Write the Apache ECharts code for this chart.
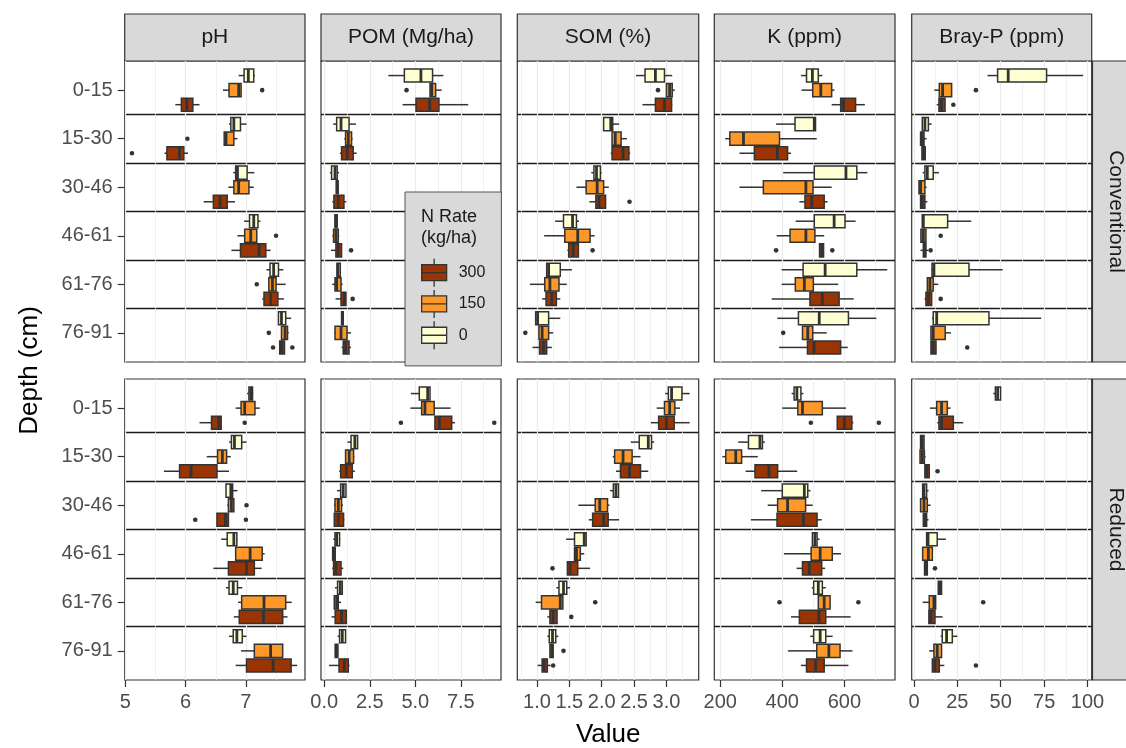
<!DOCTYPE html>
<html><head><meta charset="utf-8">
<script src="https://cdn.jsdelivr.net/npm/echarts@6/dist/echarts.min.js"></script>
<style>html,body{margin:0;padding:0;background:#fff}#chart{width:1126px;height:748px}</style>
</head><body><div id="chart"></div>
<script>
// ---------------- DATA ----------------
const depths = ['0-15','15-30','30-46','46-61','61-76','76-91'];
const rateLabels = ['300','150','0'];
const varNames = ['pH','POM (Mg/ha)','SOM (%)','K (ppm)','Bray-P (ppm)'];
const systemNames = ['Conventional','Reduced'];
const xTickMajor = [[5,6,7],[0,2.5,5,7.5],[1,1.5,2,2.5,3],[200,400,600],[0,25,50,75,100]];
const xTickMinor = [[5.5,6.5,7.5],[1.25,3.75,6.25,8.75],[0.75,1.25,1.75,2.25,2.75,3.25],[300,500,700],[12.5,37.5,62.5,87.5]];
const xTickDecimals = [0,1,1,0,0];
const xMin = [4.99,-0.18,0.696,181,-1.3];
const xMax = [7.98,9.71,3.499,763,102.4];

// box stats per depth: [lower whisker, Q1, median, Q3, upper whisker]
const pH_conv_r0   = [[6.88,6.97,7.04,7.13,7.15],[6.72,6.75,6.80,6.91,7.01],[6.79,6.83,6.86,7.02,7.14],[6.97,7.06,7.13,7.20,7.24],[7.34,7.40,7.46,7.54,7.62],[7.54,7.54,7.59,7.66,7.75]];
const pH_conv_r150 = [[6.62,6.72,6.88,6.92,6.92],[6.64,6.64,6.67,6.80,6.86],[6.71,6.80,6.88,7.05,7.13],[6.86,6.98,7.08,7.18,7.18],[7.38,7.38,7.44,7.50,7.66],[7.59,7.59,7.65,7.69,7.71]];
const pH_conv_r300 = [[5.83,5.93,6.02,6.12,6.23],[5.65,5.69,5.90,5.97,6.04],[6.30,6.46,6.57,6.69,6.82],[6.76,6.91,7.22,7.33,7.41],[7.27,7.30,7.41,7.53,7.63],[7.56,7.56,7.59,7.64,7.64]];
const pH_conv_out  = [[0,'150',7.27],[1,'150',6.03],[1,'300',5.11],[3,'150',7.50],[4,'150',7.18],[5,'150',7.38],[5,'300',7.45],[5,'300',7.77]];

const pH_red_r0   = [[7.02,7.05,7.08,7.11,7.12],[6.72,6.76,6.81,6.93,7.01],[6.67,6.67,6.75,6.78,6.86],[6.59,6.69,6.80,6.85,6.86],[6.67,6.72,6.79,6.86,6.94],[6.72,6.79,6.85,6.94,7.01]];
const pH_red_r150 = [[6.83,6.92,6.98,7.15,7.23],[6.35,6.53,6.61,6.68,6.75],[6.69,6.71,6.76,6.80,6.80],[6.83,6.83,7.07,7.27,7.31],[6.87,6.93,7.30,7.66,7.76],[6.92,7.14,7.41,7.61,7.61]];
const pH_red_r300 = [[6.23,6.43,6.55,6.59,6.59],[5.64,5.90,6.09,6.52,6.72],[6.52,6.52,6.66,6.71,6.71],[6.46,6.71,7.01,7.14,7.26],[6.80,6.89,7.29,7.61,7.69],[6.83,7.01,7.45,7.75,7.85]];
const pH_red_out  = [[0,'300',6.98],[2,'150',7.01],[2,'300',6.16],[2,'300',7.00]];

const POM_conv_r0   = [[3.52,4.40,5.31,5.95,6.54],[0.49,0.68,0.92,1.36,1.74],[0.31,0.40,0.59,0.71,0.81],[0.57,0.59,0.64,0.71,0.73],[0.68,0.70,0.75,0.88,0.90],[0.93,0.95,1.00,1.04,1.06]];
const POM_conv_r150 = [[5.81,5.81,5.90,6.12,6.45],[1.10,1.17,1.32,1.50,1.56],[0.64,0.66,0.71,0.76,0.78],[0.44,0.51,0.64,0.77,0.82],[0.44,0.59,0.68,0.92,1.01],[0.55,0.59,0.92,1.25,1.47]];
const POM_conv_r300 = [[4.30,5.04,5.79,6.30,7.91],[0.86,0.95,1.26,1.59,1.78],[0.44,0.53,0.77,1.08,1.21],[0.37,0.64,0.77,0.95,0.95],[0.62,0.92,1.10,1.19,1.19],[0.95,1.04,1.17,1.36,1.47]];
const POM_conv_out  = [[0,'150',4.52],[3,'300',1.47],[4,'300',1.56]];

const POM_red_r0   = [[4.76,5.22,5.68,5.81,5.81],[1.28,1.47,1.68,1.83,1.83],[0.70,0.90,1.04,1.19,1.19],[0.49,0.59,0.68,0.84,0.88],[0.59,0.73,0.88,0.99,0.99],[0.73,0.84,0.99,1.17,1.17]];
const POM_red_r150 = [[4.73,5.35,5.53,6.04,6.94],[1.14,1.17,1.37,1.61,1.65],[0.53,0.59,0.77,0.95,1.03],[0.44,0.46,0.53,0.60,0.62],[0.55,0.55,0.68,0.77,0.92],[0.59,0.60,0.66,0.75,0.77]];
const POM_red_r300 = [[6.08,6.08,6.32,7.00,7.18],[0.82,0.90,1.21,1.54,1.68],[0.55,0.55,0.77,1.06,1.10],[0.44,0.51,0.64,0.92,1.04],[0.40,0.60,0.95,1.21,1.25],[0.26,0.81,1.10,1.32,1.39]];
const POM_red_out  = [[0,'300',4.21],[0,'300',9.34]];

const SOM_conv_r0   = [[2.53,2.67,2.83,2.97,3.09],[2.03,2.03,2.14,2.17,2.27],[1.84,1.88,1.92,1.98,2.00],[1.28,1.41,1.55,1.61,1.65],[1.15,1.15,1.18,1.36,1.54],[0.98,0.98,1.01,1.18,1.36]];
const SOM_conv_r150 = [[3.00,3.00,3.05,3.09,3.13],[2.16,2.16,2.21,2.30,2.39],[1.61,1.76,1.93,2.03,2.11],[1.11,1.43,1.63,1.82,1.89],[0.89,1.12,1.20,1.34,1.46],[1.03,1.03,1.08,1.18,1.25]];
const SOM_conv_r300 = [[2.63,2.83,2.97,3.08,3.09],[2.14,2.16,2.33,2.42,2.44],[1.81,1.91,1.96,2.06,2.06],[1.47,1.49,1.56,1.64,1.64],[1.08,1.14,1.23,1.30,1.36],[0.93,1.04,1.10,1.15,1.23]];
const SOM_conv_out  = [[0,'150',2.87],[2,'300',2.43],[3,'300',1.86],[5,'150',0.82]];

const SOM_red_r0   = [[2.98,3.03,3.08,3.24,3.36],[2.45,2.58,2.72,2.77,2.81],[2.13,2.18,2.22,2.26,2.26],[1.45,1.58,1.73,1.76,1.76],[1.30,1.34,1.41,1.46,1.51],[1.16,1.19,1.24,1.29,1.33]];
const SOM_red_r150 = [[2.85,2.97,3.05,3.13,3.21],[2.17,2.20,2.33,2.47,2.60],[1.64,1.90,1.97,2.09,2.12],[1.58,1.58,1.61,1.67,1.73],[0.98,1.07,1.36,1.40,1.40],[1.20,1.20,1.23,1.25,1.25]];
const SOM_red_r300 = [[2.76,2.88,3.00,3.12,3.36],[2.22,2.29,2.43,2.60,2.72],[1.80,1.86,2.03,2.10,2.27],[1.47,1.47,1.51,1.63,1.82],[1.16,1.20,1.25,1.31,1.31],[1.01,1.08,1.11,1.16,1.21]];
const SOM_red_out  = [[3,'300',1.24],[4,'150',1.90],[4,'300',1.53],[5,'150',1.41],[5,'300',1.25]];

const K_conv_r0   = [[460,478,497,516,529],[380,441,503,507,507],[403,503,605,640,674],[443,503,567,602,636],[398,467,538,640,738],[384,452,519,613,703]];
const K_conv_r150 = [[462,498,524,559,568],[216,231,275,391,511],[262,339,476,499,559],[382,425,476,505,535],[398,442,471,500,580],[465,465,482,498,543]];
const K_conv_r300 = [[559,588,597,636,666],[262,310,384,417,428],[455,473,495,535,546],[520,520,527,533,533],[366,489,529,583,630],[390,481,502,588,611]];
const K_conv_out  = [[3,'300',380],[3,'300',561],[5,'150',403]];

const K_red_r0   = [[430,438,447,460,468],[258,291,328,336,344],[332,400,471,482,491],[497,497,505,512,520],[495,501,516,529,540],[490,501,522,540,562]];
const K_red_r150 = [[400,450,465,529,605],[207,218,250,269,321],[353,385,417,475,498],[405,493,522,561,589],[516,516,535,554,554],[418,511,550,586,626]];
const K_red_r300 = [[577,577,600,624,629],[282,312,357,385,448],[299,383,468,512,527],[446,465,487,527,538],[428,455,518,540,620],[460,478,507,535,613]];
const K_red_out  = [[0,'300',492],[0,'300',711],[4,'150',391],[4,'150',645]];

const P_conv_r0   = [[42.4,48.2,54.3,76.4,97.5],[4.8,4.8,6.3,8.3,10.2],[5.0,6.3,7.7,11.1,14.4],[4.8,4.8,5.4,19.4,33.0],[10.0,10.4,11.5,31.7,51.1],[10.4,11.1,13.1,43.2,73.3]];
const P_conv_r150 = [[11.7,14.6,16.5,21.7,21.7],[3.8,3.8,4.8,5.8,7.3],[2.9,2.9,3.8,6.3,7.3],[4.0,4.0,5.4,6.9,6.9],[7.7,7.7,9.2,11.1,14.0],[9.8,9.8,11.1,18.0,21.3]];
const P_conv_r300 = [[13.1,14.4,15.9,17.9,17.9],[4.6,4.6,5.5,6.5,6.5],[3.8,3.8,4.8,6.3,7.7],[3.8,5.4,6.1,6.9,8.3],[6.1,6.9,8.4,10.2,10.2],[9.8,9.8,11.1,12.7,12.7]];
const P_conv_out  = [[0,'150',35.7],[0,'300',22.7],[3,'150',15.4],[3,'300',9.6],[4,'300',15.4],[5,'300',30.7]];

const P_red_r0   = [[45.7,46.9,48.2,49.9,49.9],[3.8,3.8,4.8,5.8,5.8],[5.0,5.0,5.8,7.3,8.4],[7.3,7.3,8.1,13.4,18.4],[14.0,14.0,15.0,15.9,15.9],[15.4,16.3,18.8,22.1,25.0]];
const P_red_r150 = [[9.2,13.1,15.9,19.2,21.1],[3.5,3.5,4.8,6.0,6.7],[3.8,3.8,5.8,7.7,9.6],[4.6,5.0,8.3,10.6,10.6],[5.0,8.8,11.5,12.5,12.5],[8.8,11.5,13.4,15.9,15.9]];
const P_red_r300 = [[13.4,14.4,15.9,22.7,28.4],[6.3,6.3,7.3,8.8,8.8],[5.4,5.4,6.2,7.3,8.4],[6.1,6.1,6.9,7.7,7.7],[8.6,8.6,9.8,12.1,16.5],[10.6,10.6,12.1,14.6,17.5]];
const P_red_out  = [[1,'300',13.6],[3,'300',12.1],[4,'150',39.9],[5,'300',35.7]];

// panel table built from the arrays: [variable index, system index, {rate: boxes}, outliers]
const panels = [
  [0,0,{'300':pH_conv_r300,'150':pH_conv_r150,'0':pH_conv_r0},pH_conv_out],
  [1,0,{'300':POM_conv_r300,'150':POM_conv_r150,'0':POM_conv_r0},POM_conv_out],
  [2,0,{'300':SOM_conv_r300,'150':SOM_conv_r150,'0':SOM_conv_r0},SOM_conv_out],
  [3,0,{'300':K_conv_r300,'150':K_conv_r150,'0':K_conv_r0},K_conv_out],
  [4,0,{'300':P_conv_r300,'150':P_conv_r150,'0':P_conv_r0},P_conv_out],
  [0,1,{'300':pH_red_r300,'150':pH_red_r150,'0':pH_red_r0},pH_red_out],
  [1,1,{'300':POM_red_r300,'150':POM_red_r150,'0':POM_red_r0},POM_red_out],
  [2,1,{'300':SOM_red_r300,'150':SOM_red_r150,'0':SOM_red_r0},SOM_red_out],
  [3,1,{'300':K_red_r300,'150':K_red_r150,'0':K_red_r0},K_red_out],
  [4,1,{'300':P_red_r300,'150':P_red_r150,'0':P_red_r0},P_red_out]
];

// ---------------- STYLE / LAYOUT ----------------
const FONT = "'Liberation Sans', Arial, Helvetica, sans-serif";
const rateColor = {'300':'#993404','150':'#FE9929','0':'#FFFFD4'};
const rateDodge = {'300':0.3,'150':0,'0':-0.3};
const BOX_HALF = 0.135;
const colLeft = [124.7, 321, 517.3, 714.3, 911.7];
const colRight = [305, 501, 698.7, 895, 1091.7];
const rowTop = [61, 379];
const rowBottom = [362, 680];
const STRIP_TOP = 14, STRIP_H = 47;
const LINE = '#333333';
const TICK_FS = 20;

const grids = [], xAxes = [], yAxes = [], series = [], graphics = [];

function makeRender(boxes, outs, rate) {
  return function (params, api) {
    const i = params.dataIndex;
    const b = boxes[i];
    const yc = i + 1 + rateDodge[rate];
    const yMid = api.coord([b[2], yc])[1];
    const yA = api.coord([b[2], yc - BOX_HALF])[1];
    const yB = api.coord([b[2], yc + BOX_HALF])[1];
    const top = Math.min(yA, yB), h = Math.abs(yB - yA);
    const xs = b.map(v => api.coord([v, yc])[0]);
    const children = [
      {type:'line', shape:{x1:xs[0], y1:yMid, x2:xs[1], y2:yMid}, style:{stroke:LINE, lineWidth:1.5}},
      {type:'line', shape:{x1:xs[3], y1:yMid, x2:xs[4], y2:yMid}, style:{stroke:LINE, lineWidth:1.5}},
      {type:'rect', shape:{x:xs[1], y:top, width:xs[3]-xs[1], height:h}, style:{fill:rateColor[rate], stroke:LINE, lineWidth:1.5}},
      {type:'line', shape:{x1:xs[2], y1:top, x2:xs[2], y2:top+h}, style:{stroke:LINE, lineWidth:2.8}}
    ];
    outs.forEach(o => {
      if (o[0] === i && o[1] === rate) {
        const p = api.coord([o[2], yc]);
        children.push({type:'circle', shape:{cx:p[0], cy:p[1], r:2.3}, style:{fill:LINE}});
      }
    });
    return {type:'group', children};
  };
}

panels.forEach((pn, g) => {
  const [vi, si, rates, outs] = pn;
  const bottomRow = si === 1, leftCol = vi === 0;
  grids.push({left:colLeft[vi], top:rowTop[si], width:colRight[vi]-colLeft[vi], height:rowBottom[si]-rowTop[si],
    show:true, backgroundColor:'#ffffff', borderColor:LINE, borderWidth:1.2, containLabel:false, outerBoundsMode:'none'});
  xAxes.push({type:'value', gridIndex:g, position:'bottom', min:xMin[vi], max:xMax[vi],
    axisLine:{show:false, onZero:false},
    axisTick:{show:bottomRow, customValues:xTickMajor[vi], length:7, lineStyle:{color:LINE, width:1.2}},
    axisLabel:{show:bottomRow, customValues:xTickMajor[vi], margin:12, fontSize:TICK_FS, fontFamily:FONT, color:'#4D4D4D', hideOverlap:false,
      formatter: v => Number(v).toFixed(xTickDecimals[vi])},
    splitLine:{show:true, lineStyle:{color:'#EBEBEB', width:1.2}}});
  xAxes.push({type:'value', gridIndex:g, position:'top', min:xMin[vi], max:xMax[vi],
    axisLine:{show:false, onZero:false}, axisTick:{show:false, customValues:xTickMinor[vi]}, axisLabel:{show:false, customValues:xTickMinor[vi]},
    splitLine:{show:true, lineStyle:{color:'#EBEBEB', width:0.7}}});
  yAxes.push({type:'value', gridIndex:g, position:'left', min:0.4, max:6.6, inverse:true,
    axisLine:{show:false, onZero:false},
    axisTick:{show:leftCol, customValues:[1,2,3,4,5,6], length:7, lineStyle:{color:LINE, width:1.2}},
    axisLabel:{show:leftCol, customValues:[1,2,3,4,5,6], margin:12, fontSize:TICK_FS, fontFamily:FONT, color:'#4D4D4D', hideOverlap:false,
      formatter: v => depths[Math.round(v)-1]},
    splitLine:{show:false}});
  yAxes.push({type:'value', gridIndex:g, position:'right', min:0.4, max:6.6, inverse:true,
    axisLine:{show:false, onZero:false}, axisTick:{show:false, customValues:[1.5,2.5,3.5,4.5,5.5]}, axisLabel:{show:false, customValues:[1.5,2.5,3.5,4.5,5.5]},
    splitLine:{show:true, lineStyle:{color:'#1a1a1a', width:1.3}}});
  rateLabels.slice().reverse().forEach(rate => {
    const boxes = rates[rate];
    series.push({type:'custom', name:rate, coordinateSystem:'cartesian2d', xAxisIndex:2*g, yAxisIndex:2*g,
      itemStyle:{color:rateColor[rate]}, silent:true, animation:false, clip:false, z:5,
      encode:{x:0, y:1},
      data: boxes.map((b, i) => [b[2], i + 1]),
      renderItem: makeRender(boxes, outs, rate)});
  });
});

// strips (top)
varNames.forEach((name, vi) => {
  const w = colRight[vi] - colLeft[vi];
  graphics.push({type:'rect', shape:{x:colLeft[vi], y:STRIP_TOP, width:w, height:STRIP_H}, style:{fill:'#D9D9D9', stroke:LINE, lineWidth:1.2}, silent:true});
  graphics.push({type:'text', x:colLeft[vi] + w/2, y:STRIP_TOP + STRIP_H/2,
    style:{text:name, align:'center', verticalAlign:'middle', textAlign:'center', textVerticalAlign:'middle', font:'21px ' + FONT, fill:'#1A1A1A'}, silent:true});
});
// strips (right)
systemNames.forEach((name, si) => {
  const h = rowBottom[si] - rowTop[si];
  graphics.push({type:'rect', shape:{x:1092.5, y:rowTop[si], width:STRIP_H, height:h}, style:{fill:'#D9D9D9', stroke:LINE, lineWidth:1.2}, silent:true});
  graphics.push({type:'text', x:1092.5 + STRIP_H/2, y:rowTop[si] + h/2, rotation:-Math.PI/2,
    style:{text:name, align:'center', verticalAlign:'middle', textAlign:'center', textVerticalAlign:'middle', font:'21px ' + FONT, fill:'#1A1A1A'}, silent:true});
});
// axis titles
graphics.push({type:'text', x:(colLeft[0] + colRight[4]) / 2, y:735,
  style:{text:'Value', align:'center', verticalAlign:'middle', textAlign:'center', textVerticalAlign:'middle', font:'26px ' + FONT, fill:'#000'}, silent:true});
graphics.push({type:'text', x:30, y:(rowTop[0] + rowBottom[1]) / 2, rotation:Math.PI/2,
  style:{text:'Depth (cm)', align:'center', verticalAlign:'middle', textAlign:'center', textVerticalAlign:'middle', font:'26px ' + FONT, fill:'#000'}, silent:true});

const keyIcon = 'path://M0,6L25,6L25,22L0,22Z M0,14L25,14 M12.5,0L12.5,6 M12.5,22L12.5,28';

const option = {
  animation:false,
  backgroundColor:'#ffffff',
  grid:grids, xAxis:xAxes, yAxis:yAxes, series:series,
  title:[{text:'N Rate\n(kg/ha)', left:421, top:207, padding:0,
    textStyle:{fontSize:18, fontWeight:'normal', fontFamily:FONT, color:'#1A1A1A', lineHeight:21}, z:20}],
  legend:{orient:'vertical', left:405, top:192, padding:[66,16,16,16], itemWidth:25, itemHeight:28, itemGap:2,
    backgroundColor:'#D9D9D9', borderColor:'#555555', borderWidth:1, selectedMode:false, z:15,
    textStyle:{fontSize:16, fontFamily:FONT, color:'#1A1A1A', padding:[0,0,0,7]},
    data: rateLabels.map(r => ({name:r, icon:keyIcon, itemStyle:{color:rateColor[r], borderColor:LINE, borderWidth:1.3}}))},
  graphic:graphics
};

const chart = echarts.init(document.getElementById('chart'), null, {renderer:'canvas'});
chart.setOption(option);
</script></body></html>
